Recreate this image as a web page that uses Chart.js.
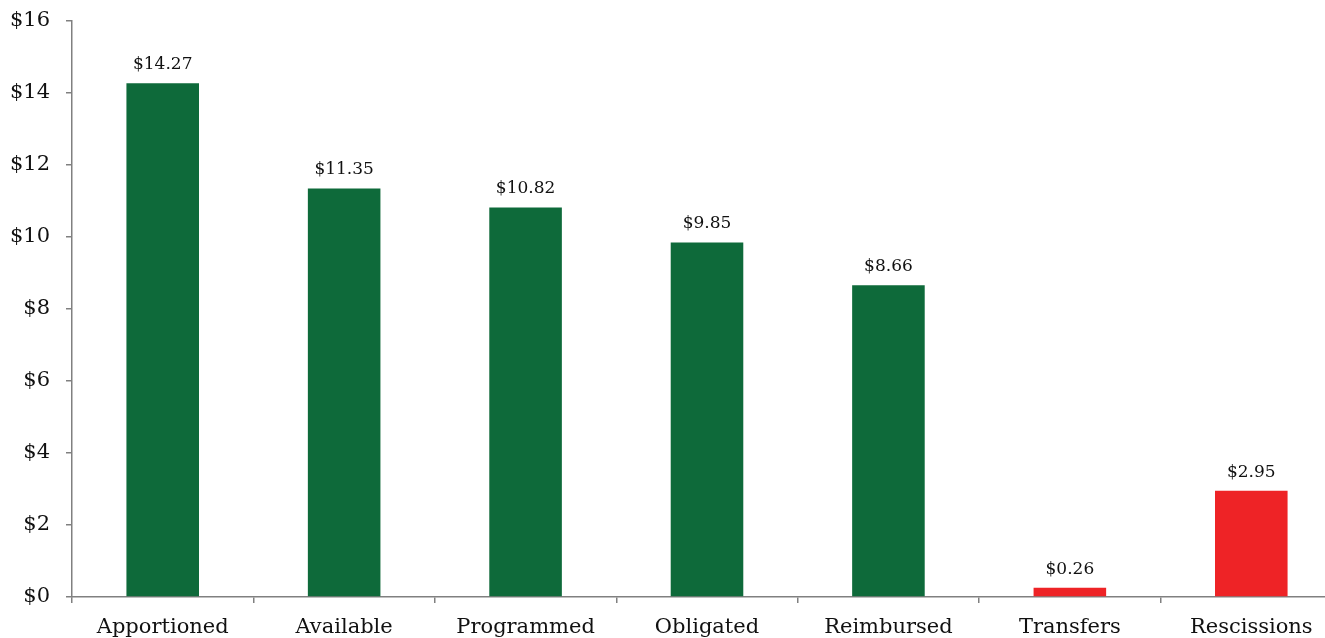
<!DOCTYPE html>
<html>
<head>
<meta charset="utf-8">
<script src="https://cdn.jsdelivr.net/npm/chart.js@4.4.1/dist/chart.umd.min.js"></script>
<style>
    html, body { margin: 0; padding: 0; background: #fff; overflow: hidden; }
    #wrap { width: 1342px; height: 638px; }
</style>
</head>
<body>
<div id="wrap"><canvas id="fundsChart" width="1342" height="638"></canvas></div>
<script>
const categories = ["Apportioned", "Available", "Programmed", "Obligated", "Reimbursed", "Transfers", "Rescissions"];
const amounts    = [14.27, 11.35, 10.82, 9.85, 8.66, 0.26, 2.95];
const barColors  = ["#0e6a3a", "#0e6a3a", "#0e6a3a", "#0e6a3a", "#0e6a3a", "#ee2326", "#ee2326"];

const axisGray = "#808080";
const serif = "'DejaVu Serif', serif";

// dollar labels over each bar
const valueLabels = {
    id: "valueLabels",
    afterDatasetsDraw(chart) {
        const ctx = chart.ctx;
        const meta = chart.getDatasetMeta(0);
        ctx.save();
        ctx.font = "17px " + serif;
        ctx.fillStyle = "#111";
        ctx.textAlign = "center";
        ctx.textBaseline = "bottom";
        meta.data.forEach((bar, i) => {
            ctx.fillText("$" + amounts[i].toFixed(2), bar.x, bar.y - 10);
        });
        ctx.restore();
    }
};

new Chart(document.getElementById("fundsChart").getContext("2d"), {
    type: "bar",
    data: {
        labels: categories,
        datasets: [{
            data: amounts,
            backgroundColor: barColors,
            borderWidth: 0,
            barPercentage: 0.4,
            categoryPercentage: 1
        }]
    },
    options: {
        responsive: false,
        animation: false,
        layout: { padding: { top: 21, left: 0, right: 0, bottom: 0 } },
        plugins: {
            legend: { display: false },
            tooltip: { enabled: false }
        },
        scales: {
            x: {
                afterFit: axis => { axis.height = 41; },
                border: { color: axisGray, width: 1.5 },
                grid: {
                    offset: true,
                    drawOnChartArea: false,
                    drawTicks: true,
                    tickLength: 6,
                    color: axisGray,
                    lineWidth: 1.5
                },
                ticks: {
                    padding: 12,
                    color: "#111",
                    font: { family: serif, size: 21 },
                    maxRotation: 0
                }
            },
            y: {
                min: 0,
                max: 16,
                afterFit: axis => {
                    axis.width = 72;
                    axis.paddingTop = 0;
                    axis.paddingBottom = 0;
                },
                border: { color: axisGray, width: 1.5 },
                grid: {
                    drawOnChartArea: false,
                    tickLength: 6,
                    color: axisGray,
                    lineWidth: 1.5
                },
                ticks: {
                    stepSize: 2,
                    padding: 16,
                    color: "#111",
                    font: { family: serif, size: 21 },
                    callback: v => "$" + v
                }
            }
        }
    },
    plugins: [valueLabels]
});
</script>
</body>
</html>
